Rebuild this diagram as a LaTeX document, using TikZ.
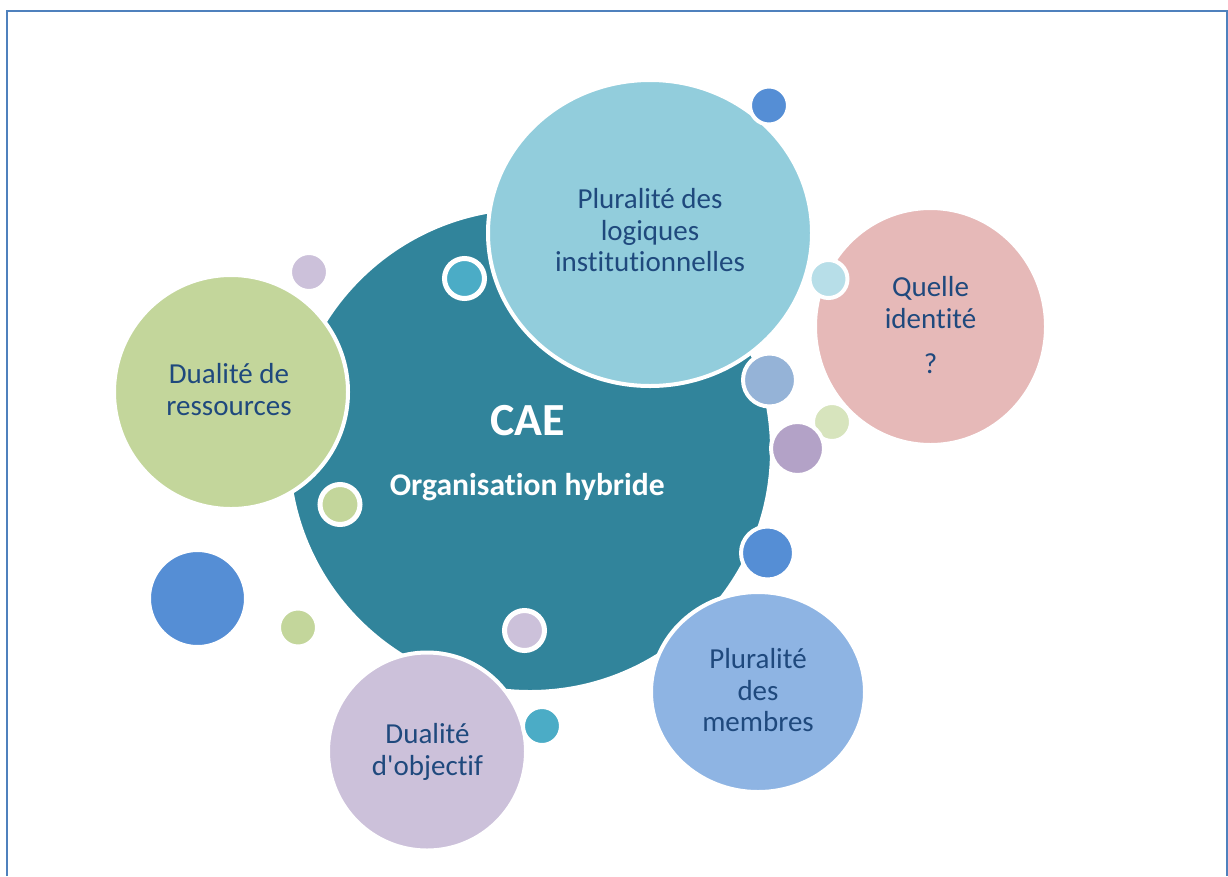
\documentclass[tikz,border=0pt]{standalone}
\usepackage{fontspec}
\setmainfont{Carlito}[Ligatures={NoCommon}]
\usetikzlibrary{shapes.geometric}
\definecolor{framecol}{HTML}{4F81BD}
\definecolor{mainteal}{HTML}{31849B}
\definecolor{logcol}{HTML}{92CDDC}
\definecolor{quellecol}{HTML}{E6B9B8}
\definecolor{rescol}{HTML}{C3D69B}
\definecolor{memcol}{HTML}{8EB4E3}
\definecolor{objcol}{HTML}{CCC1DA}
\definecolor{bluedot}{HTML}{558ED5}
\definecolor{tealdot}{HTML}{4BACC6}
\definecolor{lavdot}{HTML}{CCC1DA}
\definecolor{ltbluedot}{HTML}{B7DEE8}
\definecolor{graybluedot}{HTML}{95B3D7}
\definecolor{ltgreendot}{HTML}{D7E4BD}
\definecolor{purpledot}{HTML}{B3A2C7}
\definecolor{greendot}{HTML}{C3D69B}
\definecolor{txtcol}{HTML}{1F497D}
\tikzset{
  bubble/.style={circle, draw=white, line width=4pt, inner sep=0pt, minimum size=#1},
  ebubble/.style={ellipse, draw=white, line width=4pt, inner sep=0pt},
  ringdot/.style={circle, draw=white, line width=5pt, inner sep=0pt, minimum size=40pt},
  lbl/.style={anchor=base, inner sep=0pt, text=txtcol, font=\fontsize{29}{31.7}\selectfont},
  whitelbl/.style={anchor=base, inner sep=0pt, text=white, font=\bfseries},
}
\begin{document}
\begin{tikzpicture}[x=1pt,y=-1pt]
\useasboundingbox (0,0) rectangle (1228,876);
% frame
\draw[framecol, line width=1.5pt] (7,876) -- (7,11) -- (1227.2,11) -- (1227.2,876);
% large bubbles
\node[bubble=484pt, fill=mainteal] (cae) at (530,450) {};
\node[bubble=234pt, fill=rescol] (res) at (231,392) {};
\node[ebubble, fill=logcol, minimum width=324pt, minimum height=306pt] (log) at (650,233) {};
\node[ebubble, fill=memcol, minimum width=214pt, minimum height=200pt] (mem) at (758,692) {};
\node[bubble=198pt, fill=objcol] (obj) at (427,751.5) {};
\node[ebubble, fill=quellecol, minimum width=231pt, minimum height=237pt] (qid) at (930.5,326.5) {};
% small dots
\node[bubble=38pt, fill=bluedot] (d1) at (769,105.5) {};
\node[ringdot, fill=tealdot] (d2) at (464.5,278.5) {};
\node[bubble=38pt, fill=lavdot] (d3) at (309,272) {};
\node[bubble=38pt, fill=ltbluedot] (d4) at (828.5,279) {};
\node[bubble=53pt, fill=graybluedot] (d5) at (769.5,380) {};
\node[bubble=38pt, fill=ltgreendot] (d6) at (832,422) {};
\node[bubble=53pt, fill=purpledot] (d7) at (797.5,448.5) {};
\node[ringdot, fill=greendot] (d8) at (340,504.5) {};
\node[bubble=53pt, fill=bluedot] (d9) at (767.5,553) {};
\node[bubble=97pt, fill=bluedot] (d10) at (197.5,598.5) {};
\node[bubble=38pt, fill=greendot] (d11) at (298,627.5) {};
\node[ringdot, fill=lavdot] (d12) at (524.5,630.5) {};
\node[bubble=38pt, fill=tealdot] (d13) at (542,726) {};
% labels
\node[whitelbl, font=\bfseries\fontsize{46}{50}\selectfont] (caeT) at (527.5,435) {CAE};
\node[whitelbl, font=\bfseries\fontsize{31.6}{36}\selectfont] (orgT) at (527.3,495) {Organisation hybride};
\node[lbl] (logT) at (650,208.3) {\begin{tabular}[t]{@{}c@{}}Pluralité des\\logiques\\institutionnelles\end{tabular}};
\node[lbl] (resT) at (229,383.3) {\begin{tabular}[t]{@{}c@{}}Dualité de\\ressources\end{tabular}};
\node[lbl] (qidT) at (930.5,296.7) {\begin{tabular}[t]{@{}c@{}}Quelle\\identité\\[13.3pt]?\end{tabular}};
\node[lbl] (objT) at (427.5,743.3) {\begin{tabular}[t]{@{}c@{}}Dualité\\d\textquotesingle objectif\end{tabular}};
\node[lbl] (memT) at (758,668.3) {\begin{tabular}[t]{@{}c@{}}Pluralité\\des\\membres\end{tabular}};
\end{tikzpicture}
\end{document}
